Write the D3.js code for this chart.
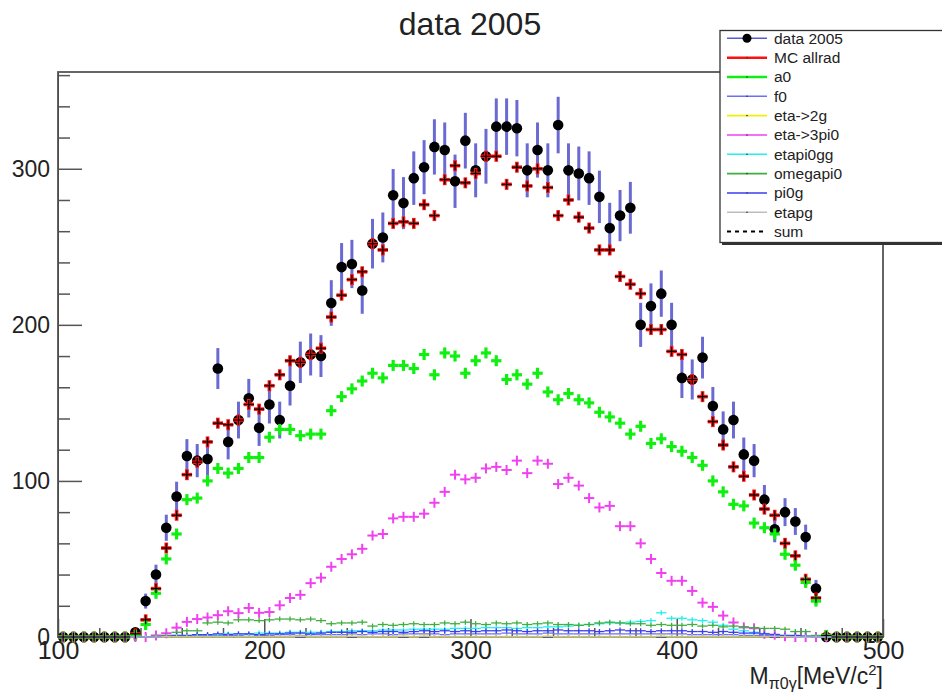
<!DOCTYPE html>
<html>
<head>
<meta charset="utf-8">
<title>data 2005</title>
<style>
  body { margin: 0; background: #fff; }
  svg { display: block; font-family: "Liberation Sans", Arial, Helvetica, sans-serif; }
</style>
</head>
<body>
<svg id="chart" width="942" height="693"></svg>
<script src="https://cdn.jsdelivr.net/npm/d3@7/dist/d3.min.js"></script>
<script>
// 80 bins of 5 MeV from 100 to 500
const binLow = 100, binWidth = 5, nBins = 80;

const dataVals = [0,0,0,0,0,0,0,3,23,40, 70,90,116,113,114,172,125,139,153,134,
  149,139,161,176,181,180,214,237,239,222, 252,256,283,278,294,301,314,312,292,318,
  299,308,327,327,326,299,312,299,328,299, 297,294,282,262,270,275,200,212,220,200,
  166,165,179,148,133,139,117,113,88,69, 80,74,64,31,0,0,0,0,0,0];

const mcAllrad = [0,0,0,0,0,0,0,2,11,31, 57,78,104,112,125,137,136,139,149,146,
  161,168,177,176,181,185,205,219,229,234, 252,248,265,266,265,277,270,293,302,291,
  297,308,308,290,301,289,300,288,270,280, 269,262,248,248,231,226,220,197,197,183,
  181,165,154,138,123,109,103,91,82,78, 60,52,37,25,1,0,0,0,0,0];
const sumVals = mcAllrad;

const a0Vals = [0,0,0,0,0,0,0,1,8,28, 50,66,88,89,100,108,105,108,115,115,
  128,133,133,129,130,130,145,154,159,164, 169,166,174,174,172,181,168,182,180,169,
  177,182,177,165,168,162,169,157,152,156, 152,150,144,141,137,130,135,124,127,122,
  119,115,110,100,93,85,84,73,70,66, 53,46,35,23,1,0,0,0,0,0];

const eta3pi0Vals = [0,0,0,0,0,0,0,0,0,1, 2.4,6,9.7,11.5,12.5,14,16.5,15.3,18.6,15.5,
  16,20.3,25,27,34.5,38,45,50,53,56.5, 65,66,76,77,77,79,86,93,104,101,
  102,108,109,107,113,105,113,111,98,102, 97,89,83,84,71,71,60,50,41,36,
  36,29.5,22,19.3,13.7,9.3,6.2,5.6,2,1.5, 0.5,0,0,0,0,0,0,0,0,0];

const omegapi0Vals = [0,0,0,0,0,0,0,0,0,0.5, 1,3,4,4,9,9.5,9,11,11,10.5,
  11,11.5,11.5,11,11.5,10.5,8.5,9,9,9.5, 7,8,7.5,8,8.5,8,8,9,8.5,9.5,
  8.5,8,9,8.5,9,8,8.5,9,8,8, 7.5,8,9,9.5,9,8.5,8.5,7.5,8,7.5,
  7.5,8,7,7.5,6.5,7,6.5,6,5.5,5.5, 5,3.5,3.5,1,0,0,0,0,0,0];

const etapi0ggVals = [0,0,0,0,0,0,0,0,0,0, 0.5,1,1,1.5,1.5,1.5,2,2,2,2.5,
  2.5,2.5,3,3,3,3,3.5,3.5,4,4, 4,4.5,4.5,4.5,5,5,5,5,5.5,5.5,
  5.5,6,6,6,5.5,6,6,6.5,6.5,7, 7.5,8,8.5,9,9,9.5,10,10.5,15.5,12,
  12,11,10.5,9.5,7.5,5,4,3,2,1.5, 1,0.5,0,0,0,0,0,0,0,0];

const pi0gVals = [0,0,0,0,0,0,0,0,0,0, 0.5,1,1,1.5,1.5,2,1.5,2,2,1.5,
  2,2,2.5,2.5,2,2.5,3,3,3,3.5, 3,3.5,3.5,3,3.5,4,3.5,4,3.5,4,
  3.5,4,4,4.5,4,3.5,4,4,4.5,4, 4,4,3.5,4,4.5,4,4,3.5,4,4,
  4,3.5,3.5,3,3.5,3,2.5,2.5,2,1.5, 1,1,0.5,0,0,0,0,0,0,0];

const f0Vals = [0,0,0,0,0,0,0,0,0,0, 0.5,0.5,0.5,1,1,1,1,1,1.5,1,
  1,1.5,1.5,1,1.5,1.5,1.5,1.5,2,1.5, 2,2,1.5,2,2,2,2,1.5,2,2,
  2,2,2,2.5,2,2,2,2.5,2,2, 2,2,2,2,2,2,2,2,2,2,
  2,1.5,1.5,1.5,1.5,1.5,1,1,1,1, 0.5,0.5,0.5,0,0,0,0,0,0,0];

const eta2gVals = [0,0,0,0,0,0,0,0,0,0, 0,0,0,0,0,0,0,0,0,0,
  0,0,0,0.6,0,0,0,0,0.6,0, 0,0,0,0.6,0,0.6,0,0,0,0,
  0,0,0,0,0,0,0,0.6,0,0, 0,0,0,0,0,0,0,0,0.6,0,
  0,0,0,0,0,0,0,0,0,0.6, 0,0,0,0,0,0,0,0,0,0];

const etapgVals = [0,0,0,0,0,0,0,0,0,0, 0.3,0.3,0.3,0.3,0.3,0.3,0.3,0.3,0.3,0.3,
  0.3,0.3,0.3,0.3,0.3,0.3,0.3,0.3,0.3,0.3, 0.3,0.3,0.3,0.3,0.3,0.3,0.3,0.3,0.3,0.3,
  0.3,0.3,0.3,0.3,0.3,0.3,0.3,0.3,0.3,0.3, 0.3,0.3,0.3,0.3,0.3,0.3,0.3,0.3,0.3,0.3,
  0.3,0.3,0.3,0.3,0.3,0.3,0.3,0.3,0.3,0.3, 0.3,0,0,0,0,0,0,0,0,0];

const legendNames = ["data 2005", "MC allrad", "a0", "f0", "eta->2g", "eta->3pi0",
  "etapi0gg", "omegapi0", "pi0g", "etapg", "sum"];

const xTicks = [100, 200, 300, 400, 500];
const yTicks = [0, 100, 200, 300];

const svg = d3.select("#chart");
const x = d3.scaleLinear().domain([100, 500]).range([58, 883]);
const y = d3.scaleLinear().domain([0, 362]).range([637, 72]);
const centers = d3.range(nBins).map(i => binLow + binWidth * (i + 0.5));
const halfBin = (x(binWidth) - x(0)) / 2;

// --- axes (ROOT style, ticks pointing inward) ---
const minorX = d3.range(120, 500, 20).filter(v => v % 100 !== 0);
const minorY = d3.range(20, 362, 20).filter(v => v % 100 !== 0);

svg.append("g").attr("transform", `translate(0,${y(0)})`)
  .call(d3.axisBottom(x).tickValues(minorX).tickSize(-9).tickFormat(""))
  .call(g => g.select(".domain").remove());
svg.append("g").attr("transform", `translate(${x(100)},0)`)
  .call(d3.axisLeft(y).tickValues(minorY).tickSize(-12).tickFormat(""))
  .call(g => g.select(".domain").remove());

const xAxis = svg.append("g").attr("transform", `translate(0,${y(0)})`)
  .call(d3.axisBottom(x).tickValues(xTicks).tickSize(-18).tickPadding(4).tickSizeOuter(0));
const yAxis = svg.append("g").attr("transform", `translate(${x(100)},0)`)
  .call(d3.axisLeft(y).tickValues(yTicks).tickSize(-24).tickPadding(8).tickSizeOuter(0));

[xAxis, yAxis].forEach(g => {
  g.attr("font-family", null).attr("font-size", null);
  g.selectAll("text").attr("fill", "#222");
});
xAxis.selectAll("text").attr("font-size", 25);
yAxis.selectAll("text").attr("font-size", 23);
svg.selectAll(".tick line").attr("stroke", "#555").attr("stroke-width", 1.5);

svg.append("rect")
  .attr("x", x(100)).attr("y", y(362))
  .attr("width", x(500) - x(100)).attr("height", y(0) - y(362))
  .attr("fill", "none").attr("stroke", "#555").attr("stroke-width", 1.8);

// --- data 2005 ---
const dataG = svg.append("g");
dataG.selectAll("line")
  .data(dataVals.map((v, i) => ({v, c: centers[i]})).filter(d => d.v > 0))
  .join("line")
  .attr("x1", d => x(d.c)).attr("x2", d => x(d.c))
  .attr("y1", d => y(d.v - Math.sqrt(d.v)))
  .attr("y2", d => y(d.v + Math.sqrt(d.v)))
  .attr("stroke", "#6a6ad2").attr("stroke-width", 3);
dataG.selectAll("circle")
  .data(dataVals)
  .join("circle")
  .attr("cx", (d, i) => x(centers[i]))
  .attr("cy", d => y(d))
  .attr("r", 5.3)
  .attr("fill", "#000");

// crosses: horizontal bar across the bin plus a short vertical bar
function crosses(vals, color, sw, vHalf) {
  const g = svg.append("g").attr("stroke", color).attr("stroke-width", sw);
  g.selectAll("line.h").data(vals).join("line").attr("class", "h")
    .attr("x1", (d, i) => x(centers[i]) - halfBin)
    .attr("x2", (d, i) => x(centers[i]) + halfBin)
    .attr("y1", d => y(d)).attr("y2", d => y(d));
  g.selectAll("line.v").data(vals).join("line").attr("class", "v")
    .attr("x1", (d, i) => x(centers[i]))
    .attr("x2", (d, i) => x(centers[i]))
    .attr("y1", d => y(d) - vHalf).attr("y2", d => y(d) + vHalf);
}

// thin histograms near zero
function thinHist(vals, color) {
  const g = svg.append("g").attr("stroke", color).attr("stroke-width", 1.3).attr("fill", "none");
  g.selectAll("line.h").data(vals).join("line").attr("class", "h")
    .attr("x1", (d, i) => x(centers[i]) - halfBin)
    .attr("x2", (d, i) => x(centers[i]) + halfBin)
    .attr("y1", d => y(d)).attr("y2", d => y(d));
  g.selectAll("line.v").data(vals).join("line").attr("class", "v")
    .attr("x1", (d, i) => x(centers[i]))
    .attr("x2", (d, i) => x(centers[i]))
    .attr("y1", d => y(d) - 2.5).attr("y2", d => Math.min(y(d) + 2.5, y(0)));
}

crosses(mcAllrad, "#ff1010", 3.6, 5.5);
crosses(a0Vals, "#10f010", 3.2, 5.5);
thinHist(f0Vals, "#6f6ff5");
thinHist(eta2gVals, "#f0f000");
crosses(eta3pi0Vals, "#f040f0", 2, 5);
thinHist(etapi0ggVals, "#20f0f0");
thinHist(omegapi0Vals, "#3fae3f");
thinHist(pi0gVals, "#3c3cf0");
thinHist(etapgVals, "#bdbdbd");
crosses(sumVals, "#000", 1.2, 4.5);

// --- title ---
svg.append("text")
  .attr("x", 470).attr("y", 35)
  .attr("text-anchor", "middle")
  .attr("font-size", 32)
  .attr("fill", "#222")
  .text("data 2005");

// --- x axis title ---
const xt = svg.append("text")
  .attr("x", 883).attr("y", 684)
  .attr("text-anchor", "end")
  .attr("font-size", 23)
  .attr("fill", "#222");
xt.append("tspan").text("M");
xt.append("tspan").attr("font-size", 16).attr("dy", 5).text("π0γ");
xt.append("tspan").attr("dy", -5).text("[MeV/c");
xt.append("tspan").attr("font-size", 15).attr("dy", -9).text("2");
xt.append("tspan").attr("dy", 9).text("]");

// --- legend ---
const legendColors = ["#5a5ad6", "#ff1010", "#10f010", "#6f6ff5", "#f0f000", "#f040f0",
  "#20f0f0", "#3fae3f", "#3c3cf0", "#bdbdbd", "#000"];
const lg = svg.append("g");
lg.append("rect").attr("x", 722).attr("y", 33).attr("width", 240).attr("height", 212).attr("fill", "#333");
lg.append("rect").attr("x", 720).attr("y", 30.5).attr("width", 240).attr("height", 212)
  .attr("fill", "#fff").attr("stroke", "#333").attr("stroke-width", 1.3);

const rowY = k => 38.3 + 19.33 * k;
legendNames.forEach((name, k) => {
  const yy = rowY(k);
  const line = lg.append("line")
    .attr("x1", 727).attr("x2", 767).attr("y1", yy).attr("y2", yy)
    .attr("stroke", legendColors[k])
    .attr("stroke-width", k === 1 || k === 2 ? 2.5 : 1.6);
  if (name === "sum") line.attr("stroke-dasharray", "4,4").attr("stroke-width", 2);
  if (k === 0) {
    lg.append("circle").attr("cx", 747).attr("cy", yy).attr("r", 4.5).attr("fill", "#000");
  } else if (name !== "sum") {
    lg.append("circle").attr("cx", 747).attr("cy", yy).attr("r", 0.8).attr("fill", "#333");
  }
  lg.append("text")
    .attr("x", 774).attr("y", yy).attr("dy", "0.35em")
    .attr("font-size", 15.5).attr("fill", "#222")
    .text(name);
});
</script>
</body>
</html>
